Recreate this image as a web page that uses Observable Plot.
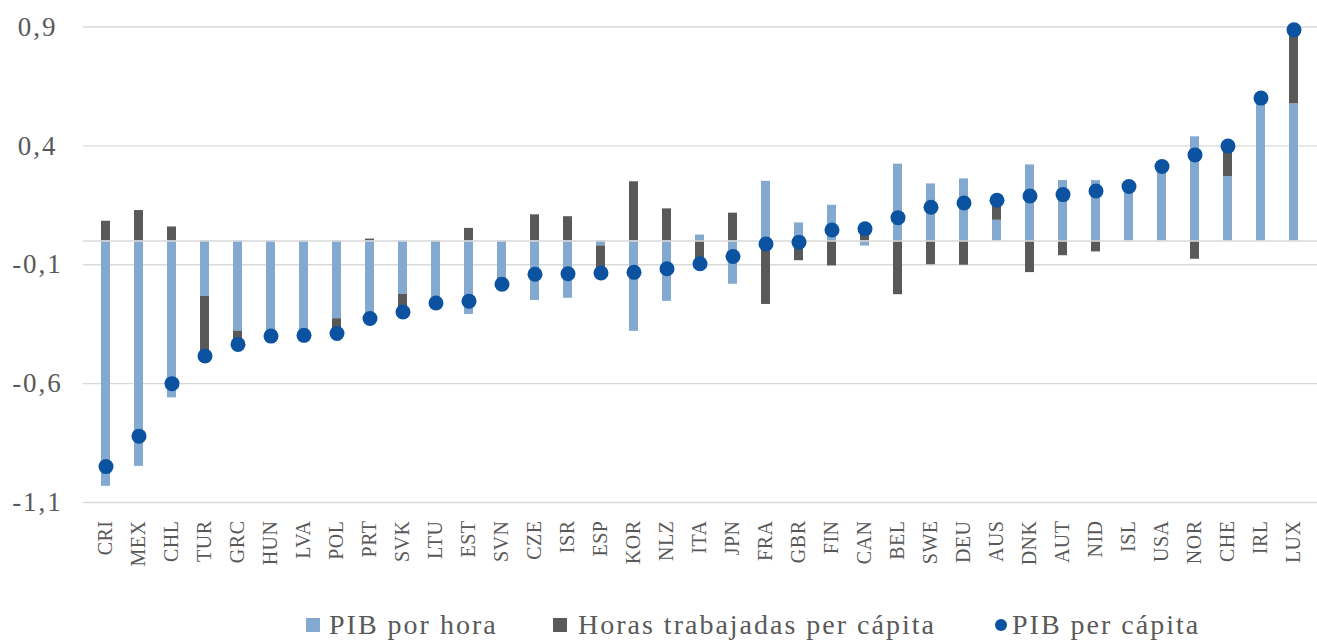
<!DOCTYPE html>
<html>
<head>
<meta charset="utf-8">
<script src="https://cdn.jsdelivr.net/npm/d3@7"></script>
<script src="https://cdn.jsdelivr.net/npm/@observablehq/plot@0.6"></script>
<style>
  html, body { margin: 0; padding: 0; background: #fff; }
  #chart svg { display: block; }
  #chart g[aria-label="y-axis tick label"] text { letter-spacing: 2px; }
  #chart g[aria-label="x-axis tick label"] text { letter-spacing: 0.5px; }
  #legend { position: relative; width: 1317px; height: 42px; font-family: "Liberation Serif", serif; color: #595959; }
  #legend .sw { position: absolute; }
  #legend .tx { position: absolute; font-size: 28px; line-height: 28px; letter-spacing: 2px; white-space: nowrap; }
</style>
</head>
<body>
<div id="chart"></div>
<div id="legend"></div>
<script>
const countries = ["CRI","MEX","CHL","TUR","GRC","HUN","LVA","POL","PRT","SVK","LTU","EST","SVN","CZE","ISR","ESP","KOR","NLZ","ITA","JPN","FRA","GBR","FIN","CAN","BEL","SWE","DEU","AUS","DNK","AUT","NID","ISL","USA","NOR","CHE","IRL","LUX"];
const pibPorHora = [-1.032,-0.948,-0.660,-0.233,-0.379,-0.400,-0.397,-0.327,-0.334,-0.225,-0.258,-0.309,-0.155,-0.250,-0.241,-0.021,-0.380,-0.254,0.025,-0.182,0.251,0.076,0.150,-0.021,0.323,0.240,0.261,0.087,0.320,0.254,0.254,0.229,0.313,0.438,0.271,0.601,0.577];
const horasTrabajadas = [0.083,0.128,0.059,-0.251,-0.056,0.000,0.000,-0.062,0.008,-0.074,-0.003,0.053,-0.027,0.110,0.102,-0.114,0.249,0.135,-0.121,0.117,-0.267,-0.083,-0.105,0.072,-0.226,-0.100,-0.102,0.084,-0.133,-0.062,-0.046,0.000,0.000,-0.077,0.128,0.000,0.311];
const pibPerCapita = [-0.949,-0.821,-0.600,-0.484,-0.435,-0.400,-0.397,-0.389,-0.326,-0.299,-0.261,-0.253,-0.182,-0.140,-0.138,-0.135,-0.132,-0.117,-0.096,-0.065,-0.013,-0.005,0.046,0.051,0.098,0.142,0.160,0.171,0.189,0.195,0.210,0.229,0.313,0.362,0.399,0.601,0.888];
const seriesNames = ["PIB por hora","Horas trabajadas per cápita","PIB per cápita"];
const seriesColors = ["#84A9D1","#595959","#0B52A1"];
const yTicks = [0.9, 0.4, -0.1, -0.6, -1.1];

const bars = [];
countries.forEach((c, i) => {
  bars.push({country: c, serie: seriesNames[0], value: pibPorHora[i]});
  bars.push({country: c, serie: seriesNames[1], value: horasTrabajadas[i]});
});
const dots = countries.map((c, i) => ({country: c, value: pibPerCapita[i]}));
const fmt = d => d.toFixed(1).replace(".", ",");

const chart = Plot.plot({
  width: 1317,
  height: 600,
  marginLeft: 83,
  marginRight: 0,
  marginTop: 26.5,
  marginBottom: 98,
  style: {fontFamily: "Liberation Serif, serif", color: "#595959", background: "#fff"},
  x: {domain: countries, paddingInner: 0.72, paddingOuter: 0.36, label: null},
  y: {domain: [-1.1, 0.9], label: null},
  color: {domain: seriesNames.slice(0, 2), range: seriesColors.slice(0, 2)},
  marks: [
    Plot.gridY(yTicks, {stroke: "#D9D9D9", strokeOpacity: 1, strokeWidth: 1.3}),
    Plot.barY(bars, {x: "country", y: "value", fill: "serie"}),
    Plot.ruleY([0], {stroke: "#D9D9D9", strokeWidth: 1.6}),
    Plot.dot(dots, {x: "country", y: "value", r: 7.5, fill: seriesColors[2]}),
    Plot.axisY({ticks: yTicks, tickFormat: fmt, tickSize: 0, tickPadding: 46, textAnchor: "middle", fontSize: 27, label: null}),
    Plot.axisX({tickSize: 0, tickRotate: -90, tickPadding: 15, fontSize: 20, dy: 3, label: null})
  ]
});
document.getElementById("chart").appendChild(chart);

const legend = document.getElementById("legend");
const items = [
  {name: seriesNames[0], color: seriesColors[0], shape: "square", sx: 306, tx: 329},
  {name: seriesNames[1], color: seriesColors[1], shape: "square", sx: 553, tx: 578},
  {name: seriesNames[2], color: seriesColors[2], shape: "circle", sx: 995, tx: 1012}
];
items.forEach(it => {
  const sw = document.createElement("div");
  sw.className = "sw";
  if (it.shape === "square") {
    sw.style.cssText = `left:${it.sx}px;top:18px;width:14px;height:14px;background:${it.color};`;
  } else {
    sw.style.cssText = `left:${it.sx}px;top:19px;width:12px;height:12px;border-radius:50%;background:${it.color};`;
  }
  legend.appendChild(sw);
  const tx = document.createElement("div");
  tx.className = "tx";
  tx.style.left = it.tx + "px";
  tx.style.top = "11px";
  tx.textContent = it.name;
  legend.appendChild(tx);
});
</script>
</body>
</html>
